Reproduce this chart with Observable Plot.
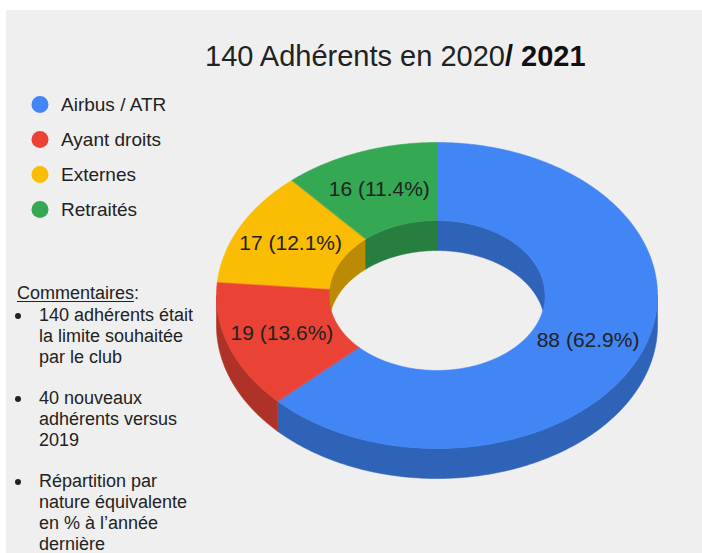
<!DOCTYPE html>
<html>
<head>
<meta charset="utf-8">
<script src="https://cdn.jsdelivr.net/npm/d3@7"></script>
<script src="https://cdn.jsdelivr.net/npm/@observablehq/plot@0.6"></script>
<style>
  html, body { margin: 0; padding: 0; background: #ffffff; }
  #wrap { position: relative; width: 702px; height: 553px; overflow: hidden; background: #ffffff;
          font-family: "Liberation Sans", Arial, sans-serif; color: #222; }
  #panel { position: absolute; left: 6px; top: 10px; right: 0; bottom: 0; background: #efefef; }
  #chart, #legend { position: absolute; left: 0; top: 0; }
  #title { position: absolute; left: 205px; top: 41.5px; font-size: 29px; line-height: 29px; white-space: nowrap; color: #222; }
  #title b { color: #111; }
  #comments { position: absolute; left: 0; top: 283px; width: 210px; font-size: 18px; line-height: 20.8px; color: #222; }
  #comments .head { position: absolute; left: 17px; top: 0; white-space: nowrap; }
  #comments .head u { text-decoration-thickness: 1px; text-underline-offset: 2px; }
  #comments ul { list-style: none; margin: 0; padding: 0; position: absolute; left: 0; top: 22px; }
  #comments li { position: relative; padding-left: 39px; margin-bottom: 20.8px; white-space: nowrap; }
  #comments li::before { content: ""; position: absolute; left: 15px; top: 8px; width: 6px; height: 6px; border-radius: 50%; background: #222; }
</style>
</head>
<body>
<div id="wrap">
  <div id="panel"></div>
  <div id="chart"></div>
  <div id="title"></div>
  <div id="legend"></div>
  <div id="comments"></div>
</div>
<script>
// ---- data ----
const categories = ["Airbus / ATR", "Ayant droits", "Externes", "Retraités"];
const values = [88, 19, 17, 16];
const topColors = ["#4285f4", "#ea4335", "#fbbc04", "#34a853"];
const sideColors = ["#2f63b8", "#ae3228", "#bb8c03", "#277e3e"];
const titleText = ["140 Adhérents en 2020", "/ 2021"];
const commentsHead = "Commentaires";
const commentItems = [
  ["140 adhérents était", "la limite souhaitée", "par le club"],
  ["40 nouveaux", "adhérents versus", "2019"],
  ["Répartition par", "nature équivalente", "en % à l’année", "dernière"]
];

// ---- geometry (layout) ----
const CX = 436.5, CY = 295, RX = 220.5, RY = 153, DEPTH_PX = 30, HOLE = 0.49;
const DZ = DEPTH_PX / RY;

const total = d3.sum(values);
const arcs = d3.pie().sort(null).value(d => d)(values);

function arcPts(r, a0, a1, dz) {
  const n = Math.max(2, Math.ceil(Math.abs(a1 - a0) / (Math.PI / 360)));
  const pts = [];
  for (let i = 0; i <= n; i++) {
    const a = a0 + (a1 - a0) * i / n;
    pts.push({x: r * Math.sin(a), y: -r * Math.cos(a) + dz});
  }
  return pts;
}
function clip(a0, a1, b0, b1) {
  const s = Math.max(a0, b0), e = Math.min(a1, b1);
  return s < e ? [s, e] : null;
}

const walls = [];
const tops = [];
let pid = 0;
arcs.forEach((p, i) => {
  const a0 = p.startAngle, a1 = p.endAngle;
  const ow = clip(a0, a1, Math.PI / 2, 3 * Math.PI / 2);
  if (ow) {
    const id = "w" + (pid++);
    [...arcPts(1, ow[0], ow[1], 0), ...arcPts(1, ow[1], ow[0], DZ)]
      .forEach(q => walls.push({...q, id, fill: sideColors[i]}));
  }
  [[-Math.PI / 2, Math.PI / 2], [3 * Math.PI / 2, 5 * Math.PI / 2]].forEach(([b0, b1]) => {
    const iw = clip(a0, a1, b0, b1);
    if (iw) {
      const id = "w" + (pid++);
      [...arcPts(HOLE, iw[0], iw[1], 0), ...arcPts(HOLE, iw[1], iw[0], DZ)]
        .forEach(q => walls.push({...q, id, fill: sideColors[i]}));
    }
  });
  const id = "t" + (pid++);
  [...arcPts(1, a0, a1, 0), ...arcPts(HOLE, a1, a0, 0)]
    .forEach(q => tops.push({...q, id, fill: topColors[i]}));
});

const rMid = (1 + HOLE) / 2;
const labels = arcs.map((p, i) => {
  const a = (p.startAngle + p.endAngle) / 2;
  return {
    x: rMid * Math.sin(a),
    y: -rMid * Math.cos(a),
    text: `${values[i]} (${(values[i] / total * 100).toFixed(1)}%)`
  };
});

const chart = Plot.plot({
  width: 702, height: 553, margin: 0,
  x: {domain: [-1, 1], range: [CX - RX, CX + RX], axis: null},
  y: {domain: [-1, 1], range: [CY - RY, CY + RY], axis: null},
  color: {type: "identity"},
  style: {background: "transparent", fontFamily: "'Liberation Sans', Arial, sans-serif"},
  marks: [
    Plot.line(walls, {x: "x", y: "y", z: "id", fill: "fill", stroke: "fill", strokeWidth: 0.6, curve: "linear-closed"}),
    Plot.line(tops, {x: "x", y: "y", z: "id", fill: "fill", stroke: "fill", strokeWidth: 0.6, curve: "linear-closed"}),
    Plot.text(labels, {x: "x", y: "y", text: "text", fontSize: 21, fill: "#222"})
  ]
});
document.getElementById("chart").appendChild(chart);

const legendRows = categories.map((c, i) => ({c, color: topColors[i]}));
const legend = Plot.plot({
  width: 220, height: 230, margin: 0,
  x: {domain: [0, 1], range: [39.5, 60.5], axis: null},
  y: {type: "point", domain: categories, range: [103, 210], padding: 0, axis: null},
  color: {type: "identity"},
  style: {background: "transparent", fontFamily: "'Liberation Sans', Arial, sans-serif"},
  marks: [
    Plot.dot(legendRows, {x: () => 0, y: "c", r: 8.5, fill: "color"}),
    Plot.text(legendRows, {x: () => 1, y: "c", text: "c", textAnchor: "start", fontSize: 19, fill: "#222"})
  ]
});
document.getElementById("legend").appendChild(legend);

// title
const t = document.getElementById("title");
t.appendChild(document.createTextNode(titleText[0]));
const b = document.createElement("b");
b.textContent = titleText[1];
t.appendChild(b);

// comments
const cm = document.getElementById("comments");
const head = document.createElement("div");
head.className = "head";
const u = document.createElement("u");
u.textContent = commentsHead;
head.appendChild(u);
head.appendChild(document.createTextNode(":"));
cm.appendChild(head);
const ul = document.createElement("ul");
commentItems.forEach(lines => {
  const li = document.createElement("li");
  lines.forEach((s, k) => {
    if (k) li.appendChild(document.createElement("br"));
    li.appendChild(document.createTextNode(s));
  });
  ul.appendChild(li);
});
cm.appendChild(ul);
</script>
</body>
</html>
